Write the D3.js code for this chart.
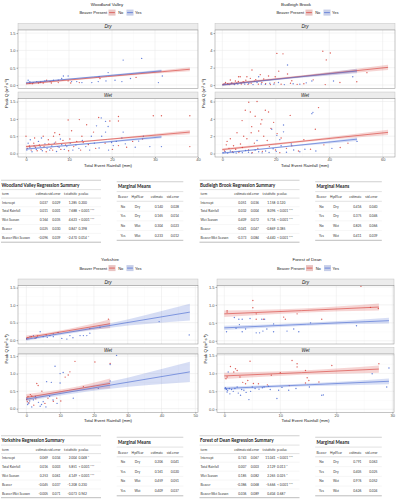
<!DOCTYPE html>
<html>
<head>
<meta charset="utf-8">
<script src="https://cdn.jsdelivr.net/npm/d3@7"></script>
<style>
body { margin: 0; background: #fff; }
svg { display: block; font-family: "Liberation Sans", Arial, sans-serif; }
.title { font-size: 4.4px; fill: #222; text-anchor: middle; }
.legend text { font-size: 4px; fill: #222; }
.strip { font-size: 4.6px; font-style: italic; fill: #1a1a1a; text-anchor: middle; }
.axis text { font-size: 4px; fill: #4d4d4d; font-family: "Liberation Sans", Arial, sans-serif; }
.axis line { stroke: #333; stroke-width: 0.4; }
.axlab { font-size: 4.3px; fill: #222; text-anchor: middle; }
.tbl text { font-family: Lato, "Open Sans", sans-serif; font-size: 3.25px; fill: #333; }
.tbl .ttl { font-size: 4.6px; font-weight: bold; fill: #222; }
</style>
</head>
<body>
<div id="chart"></div>
<script>
// ---- tick values
const unitYTicks = [0, 0.5, 1, 1.5];
const bbYTicks = [0, 2, 4, 6];
const wvXTicks = [0, 10, 20, 30, 40];
const bbXTicks = [0, 20, 40, 60];
const ykXTicks = [0, 10, 20, 30, 40, 50];
const fdXTicks = [0, 10, 20, 30];

// ---- points [rainfall mm, peak Q]
const wvDryNo = [[0.9,0.05],[1.5,0.04],[2.9,0.06],[3.4,0.09],[4.0,0.06],[4.8,0.14],[5.9,0.06],[7.5,0.07],[9.8,0.12],[10.4,0.06],[12.4,0.07],[17.2,0.19],[25.6,0.22]];
const wvDryYes = [[0.5,0.14],[0.9,0.1],[1.7,0.07],[2.5,0.1],[3.3,0.07],[4.4,0.12],[5.6,0.1],[6.4,0.14],[7.5,0.14],[8.3,0.19],[8.7,0.26],[9.8,0.26],[10.6,0.1],[11.8,0.1],[13,0.07],[15.3,0.07],[16.8,0.1],[17,0.24],[18.6,0.12],[19.1,0.36],[20.7,0.14],[22.3,0.1],[22.6,0.72],[24.3,0.19],[26.9,0.77],[30.8,0.07],[31.7,0.26]];
const wvWetNo = [[0,0.5],[4,0.5],[5.2,0.4],[6.4,0.5],[9.8,0.97],[12.4,0.98],[14.1,0.83],[10.6,0.66],[6.7,0.6],[19.5,0.94],[21.5,1.07],[21.5,0.94],[16.9,1.04],[29.6,1.09],[31.5,1.09],[38.1,1.09],[38.1,0.2],[23.4,0.18],[21.5,0.23],[15.7,0.62],[10.2,0.42],[13.3,0.32],
  [0.3,0.15],[0.8,0.22],[1.2,0.1],[1.8,0.3],[2.2,0.18],[2.6,0.08],[3.1,0.25],[3.5,0.12],[4.2,0.2],[4.7,0.05],[5.3,0.28],[5.8,0.15],[6.2,0.1],[6.9,0.33],[7.4,0.2],[8.1,0.12],[8.6,0.38],[9.2,0.25],[9.9,0.08],[11.1,0.2],[11.8,0.35],[12.7,0.1],[14.5,0.26],[16.2,0.15],[18.4,0.3],[20.1,0.12],[24.8,0.35],[27.1,0.42],[2.0,0.45],[7.8,0.55],[13,0.5]];
const wvWetYes = [[17.5,1.03],[18.5,0.93],[18.5,0.62],[19.1,0.78],[22.6,0.62],[16.4,0.8],[28.8,0.2],[31.5,0.2],[27.3,0.5],[17.6,0.5],[19.9,0.32],[20.3,0.23],[15.2,0.5],[22.3,0.45],
  [0.2,0.1],[0.5,0.3],[0.9,0.18],[1.4,0.05],[1.9,0.22],[2.4,0.12],[2.9,0.35],[3.3,0.2],[3.8,0.08],[4.4,0.28],[4.9,0.15],[5.5,0.1],[6.0,0.22],[6.6,0.3],[7.1,0.06],[7.7,0.18],[8.3,0.26],[8.9,0.12],[9.5,0.2],[10.3,0.3],[10.9,0.1],[11.6,0.25],[12.3,0.15],[13.1,0.38],[13.9,0.2],[14.8,0.1],[15.9,0.3],[17.0,0.16],[19.2,0.1],[21.0,0.35],[23.1,0.28],[25.4,0.18],[26.2,0.36],[1.0,0.4],[3.6,0.45],[8.0,0.42]];

const bbDryNo = [[20.4,3.65],[22.7,3.6],[37.6,3.9],[40.4,3.7],[38.9,2.9],[11.1,1.73],[21.1,1.6],[24.4,1.27],[17.3,1.04],[9.2,0.96],[10.5,0.77],[6.1,0.96],[6.7,0.96],[3,0.58],[4.9,0.46],[7.8,0.38],[19.8,0.96],[50.3,0.38],[54.1,1.43],[38.5,0.05],
  [0.5,0.1],[1.2,0.3],[2.0,0.15],[2.8,0.05],[3.6,0.25],[4.4,0.1],[5.3,0.2],[6.0,0.4],[7.1,0.12],[8.2,0.3],[9.6,0.08],[10.8,0.22],[12.0,0.45],[13.5,0.1],[14.8,0.3],[16.2,0.15],[18.0,0.05],[19.5,0.25],[22.0,0.1],[25.5,0.2],[28.0,0.08],[30.5,0.15],[34.0,0.6],[44.0,0.3],[12.5,0.62],[15.5,0.7],[8.8,0.55],[14.2,1.2],[26.0,0.5]];
const bbDryYes = [[24.4,2.31],[13.6,0.96],[33.5,0.46],[41.6,0.46],[48.8,0.96],
  [0.3,0.05],[1.0,0.15],[2.2,0.08],[3.4,0.2],[4.6,0.05],[5.8,0.12],[7.0,0.25],[8.4,0.1],[9.9,0.18],[11.5,0.05],[13.0,0.3],[14.6,0.12],[16.1,0.08],[17.8,0.2],[19.3,0.1],[21.0,0.3],[23.2,0.05],[26.5,0.15],[29.0,0.1],[31.4,0.25]];
const bbWetNo = [[9.9,5.92],[13,6.0],[8.6,5.0],[10.5,4.8],[7.4,3.8],[12.3,4.3],[16.1,5.0],[17.3,4.8],[25.4,4.4],[36,5.3],[34.8,2.8],[19.2,3.6],[13.6,2.6],[5.5,2.4],[3,1.7],[1.8,1.4],[44.1,0.7],[9.2,1.7],[15.5,2],
  [11.0,3.1],[14.4,3.4],[18.2,2.9],[20.5,2.3],[16.8,1.5],[6.8,1.1],[4.2,0.9],[8.0,2.0],[12.0,1.2],[22.0,1.8],[26.0,0.9],[30.5,1.6],[2.5,0.6],[0.8,0.3],[1.5,1.0],[3.8,0.2],[5.0,0.5],[6.2,0.15],[7.5,0.7],[9.8,0.4],[11.2,0.1],[13.3,0.6],[15.0,0.25],[17.6,0.8],[19.9,0.4],[21.5,0.1],[24.0,0.6],[28.5,0.3],[33.0,0.5],[38.0,1.0],[47,1.2],[14.8,3.9],[10.8,2.4]];
const bbWetYes = [[33.5,4.6],[33.9,4.75],[22.9,3.3],[22.9,2.5],[20.4,2.1],[13,1.5],[26.7,0.4],[30.9,0.5],[50.4,1.4],[18.5,2.8],[21.5,1.6],
  [0.3,0.1],[1.1,0.2],[2.0,0.05],[3.0,0.3],[4.1,0.12],[5.2,0.05],[6.3,0.25],[7.5,0.1],[8.7,0.35],[9.8,0.15],[11.0,0.05],[12.3,0.4],[13.6,0.2],[14.9,0.08],[16.2,0.3],[17.5,0.12],[19.0,0.55],[20.2,0.25],[22.0,0.9],[24.0,0.15],[25.8,1.1],[29.0,0.2],[35.0,0.3],[41.0,0.6]];

const ykDryNo = [[0.1,0.03],[0.5,0.06],[1.5,0.1],[2.6,0.05],[3.3,0.12],[5.9,0.15],[18.8,0.33],[24.3,0.6]];
const ykDryYes = [[0.1,0.05],[1.1,0.1],[2.1,0.13],[3,0.07],[4.1,0.24],[5,0.1],[6.2,0.08],[7,0.13],[8,0.1],[8,0.18],[9.4,0.22],[10.5,0.05],[12,0.03],[12.9,0.13],[13.8,0.07],[15.9,0.13],[16.9,0.13],[17.9,0.13],[18.8,0.2],[21.8,0.37],[39.3,0.53],[48.2,0.15]];
const ykWetNo = [[14.4,1.35],[20.3,1.33],[24.8,1.29],[12.9,1.05],[12.4,0.96],[16.9,0.63],[9,0.3],[8,0.21],[1.6,0.36],[3.1,0.72],[3.5,0.66],[0.8,0.16],[0.1,0.26],[0.3,0.2],[2.2,0.1],[4.6,0.5],[6.4,0.3],[10.2,0.22],[11.5,0.9],[1.2,0.4],[2.8,0.28],[5.5,0.15],[0.5,0.35]];
const ykWetYes = [[8.5,1.21],[10,1.0],[10.9,1.03],[10,0.73],[6,0.77],[7.4,0.75],[26.7,1.52],[24.8,0.79],[24.8,1.26],[21.3,0.58],[13.9,0.3],[2.1,0.25],[3.6,0.18],[5,0.2],[6.9,0.35],[0.6,0.16],[4.1,0.07],[0.2,0.3],[1.0,0.22],[2.7,0.35],[4.5,0.12],[5.8,0.05],[7.9,0.25],[9.1,0.15],[0.4,0.12],[1.6,0.05]];

const fdDryNo = [[0.5,0.84],[0.5,0.8],[5.1,1.12],[5.1,0.92],[5.7,0.75],[5.7,0.6],[7,0.6],[10.6,0.66],[10.9,0.6],[13,0.75],[17.4,0.6],[24.4,1.52],[26.1,0.93],[27.5,0.9]];
const fdDryYes = [[0.4,0.25],[1.8,0.65],[2.1,0.35],[2.6,0.6],[2.7,0.45],[3.2,0.6],[3.2,0.25],[3.8,0.33],[4.6,0.62],[5.7,0.22],[6.3,0.22],[6.7,0.6],[6.9,0.27],[7.2,0.6],[7.6,0.33],[8.8,0.47],[8.8,0.25],[11.2,0.27],[12.4,0.33],[13.3,0.25],[15.4,0.5],[23.6,0.42]];
const fdWetNo = [[0.5,0.9],[1.1,1.19],[1.7,1.04],[2,1.13],[2.3,1.08],[4.6,1.34],[6.1,0.71],[10,1.02],[12.1,1.36],[13,1.27],[13,1.18],[14.5,1.08],[14.5,0.73],[16.9,0.76],[19.2,1.22],[27.6,1.27],[3.8,0.71],[0.3,0.85],[2.8,0.9],[3.3,0.75],[4.2,0.8],[5.2,0.72],[7.7,0.68],[8.4,0.95],[14.8,0.88],[15.1,0.8],[11.6,0.66]];
const fdWetYes = [[0.7,1.04],[0.4,0.55],[0.5,0.48],[1,0.43],[2.3,0.62],[2.9,0.39],[3.5,0.53],[4.4,0.27],[5,0.62],[7.1,0.62],[7.9,0.64],[9.4,0.3],[9.7,0.53],[11.5,0.53],[17.4,0.39],[17.7,0.4],[26.4,0.99],[29.4,1.15],[0.2,0.6],[0.3,0.57],[0.6,0.52],[0.9,0.58],[1.3,0.55],[1.6,0.5],[1.9,0.58],[2.5,0.45],[3.1,0.55],[3.9,0.47],[4.7,0.5],[5.5,0.58],[6.2,0.56],[6.8,0.6],[8.2,0.55],[10.3,0.61],[12.8,0.58],[15.2,0.62],[29,0.62]];

// ---- fitted lines: [season, beaver, [[x, fit, lower, upper], ...]]
const wvFits = [
  ["Dry","No",[[0,0.037,0.0,0.077],[19,0.246,0.226,0.266],[38.1,0.456,0.396,0.516]]],
  ["Dry","Yes",[[0,0.062,0.032,0.092],[15.75,0.235,0.215,0.255],[31.5,0.41,0.37,0.45]]],
  ["Wet","No",[[0,0.2,0.17,0.23],[19,0.41,0.39,0.43],[38.1,0.62,0.56,0.68]]],
  ["Wet","Yes",[[0,0.13,0.105,0.155],[15.75,0.3,0.28,0.32],[31.5,0.48,0.44,0.52]]]
];
const bbFits = [
  ["Dry","No",[[0,0.05,-0.1,0.2],[31,1.04,0.92,1.16],[62,2.04,1.74,2.34]]],
  ["Dry","Yes",[[0,0.01,-0.11,0.13],[25.2,0.82,0.72,0.92],[50.4,1.62,1.37,1.87]]],
  ["Wet","No",[[0,0.46,0.32,0.6],[31,1.45,1.33,1.57],[62,2.44,2.14,2.74]]],
  ["Wet","Yes",[[0,0.05,-0.05,0.15],[25.2,0.85,0.77,0.93],[50.4,1.66,1.46,1.86]]]
];
const ykFits = [
  ["Dry","No",[[0,0.07,0.01,0.13],[12.4,0.27,0.22,0.32],[24.8,0.47,0.34,0.6]]],
  ["Dry","Yes",[[0,0.024,-0.016,0.064],[24.2,0.41,0.35,0.47],[48.4,0.8,0.56,1.04]]],
  ["Wet","No",[[0,0.32,0.22,0.42],[12.4,0.52,0.46,0.58],[24.8,0.72,0.58,0.86]]],
  ["Wet","Yes",[[0,0.27,0.22,0.32],[24.2,0.66,0.56,0.76],[48.4,1.05,0.76,1.34]]]
];
const fdFits = [
  ["Dry","No",[[0,0.75,0.66,0.84],[13.8,0.84,0.78,0.9],[27.6,0.94,0.84,1.04]]],
  ["Dry","Yes",[[0,0.36,0.3,0.42],[14.7,0.46,0.42,0.5],[29.4,0.56,0.48,0.64]]],
  ["Wet","No",[[0,0.93,0.84,1.02],[13.8,1.02,0.96,1.08],[27.6,1.12,1.02,1.22]]],
  ["Wet","Yes",[[0,0.58,0.53,0.63],[14.7,0.68,0.64,0.72],[29.4,0.78,0.7,0.86]]]
];

// ---- tables
const regHeader = ["term", "estimate", "std.error", "t.statistic", "p.value"];
const regTerms = ["Intercept", "Total Rainfall", "Wet Season", "Beaver", "Beaver:Wet Season"];
const wvReg = [["0.037","0.029","1.285","0.200"],["0.011","0.001","7.688","< 0.001 ***"],["0.164","0.035","4.623","< 0.001 ***"],["0.025","0.030","0.847","0.398"],["-0.096","0.039","-2.470","0.014 *"]];
const bbReg = [["0.051","0.036","1.158","0.120"],["0.032","0.004","8.096","< 0.001 ***"],["0.409","0.072","5.716","< 0.001 ***"],["-0.041","0.047","-0.869","0.385"],["-0.373","0.084","-4.440","< 0.001 ***"]];
const ykReg = [["0.069","0.034","2.004","0.048 *"],["0.016","0.003","5.851","< 0.001 ***"],["0.253","0.061","4.149","< 0.001 ***"],["-0.045","0.037","-1.208","0.230"],["-0.005","0.071","-0.073","0.942"]];
const fdReg = [["0.743","0.067","11.041","< 0.001 ***"],["0.007","0.003","2.129","0.013 *"],["0.185","0.082","2.265","0.025 *"],["-0.386","0.068","-5.666","< 0.001 ***"],["0.036","0.089","0.404","0.687"]];
const mmHeader = ["Beaver", "HydYear", "estimate", "std.error"];
const mmGroups = [["No","Dry"],["Yes","Dry"],["No","Wet"],["Yes","Wet"]];
const wvMeans = [["0.140","0.028"],["0.165","0.014"],["0.304","0.023"],["0.233","0.012"]];
const bbMeans = [["0.416","0.040"],["0.375","0.046"],["0.825","0.066"],["0.411","0.039"]];
const ykMeans = [["0.206","0.041"],["0.161","0.020"],["0.459","0.051"],["0.409","0.037"]];
const fdMeans = [["0.791","0.063"],["0.405","0.025"],["0.976","0.052"],["0.626","0.024"]];

const colors = {No: "#d7423b", Yes: "#4a6ad3"};

const sites = [
  {name: "Woodland Valley", ox: 0, oy: 0, px: [18, 198], titleX: 107, xDomain: [-1.86, 40], yDomain: [-0.1, 1.59],
   xTicks: wvXTicks, yTicks: unitYTicks, yFmt: d3.format(".1f"),
   pts: {DryNo: wvDryNo, DryYes: wvDryYes, WetNo: wvWetNo, WetYes: wvWetYes}, fits: wvFits, reg: wvReg, means: wvMeans, tx: 0},
  {name: "Budleigh Brook", ox: 197, oy: 0, px: [18, 198], titleX: 99, xDomain: [-2.73, 64.6], yDomain: [-0.4, 6.35],
   xTicks: bbXTicks, yTicks: bbYTicks, yFmt: d3.format("d"),
   pts: {DryNo: bbDryNo, DryYes: bbDryYes, WetNo: bbWetNo, WetYes: bbWetYes}, fits: bbFits, reg: bbReg, means: bbMeans, tx: 1.5},
  {name: "Yorkshire", ox: 0, oy: 255.5, px: [18, 198], titleX: 110, xDomain: [-2.46, 50.8], yDomain: [-0.11, 1.56],
   xTicks: ykXTicks, yTicks: unitYTicks, yFmt: d3.format(".1f"),
   pts: {DryNo: ykDryNo, DryYes: ykDryYes, WetNo: ykWetNo, WetYes: ykWetYes}, fits: ykFits, reg: ykReg, means: ykMeans, tx: 0},
  {name: "Forest of Dean", ox: 197, oy: 255.5, px: [20, 197], titleX: 110, xDomain: [-1.3, 30.3], yDomain: [-0.09, 1.54],
   xTicks: fdXTicks, yTicks: unitYTicks, yFmt: d3.format(".1f"),
   pts: {DryNo: fdDryNo, DryYes: fdDryYes, WetNo: fdWetNo, WetYes: fdWetYes}, fits: fdFits, reg: fdReg, means: fdMeans, tx: 1.5}
];

const svg = d3.select('#chart')
  .append('svg')
  .attr('width', 397)
  .attr('height', 500);

const facets = [
  {season: "Dry", top: 30, bottom: 88.5},
  {season: "Wet", top: 98.5, bottom: 157}
];

// minor breaks halfway between the majors
const minors = (ticks, dom) => {
  const step = ticks[1] - ticks[0];
  return ticks.map(t => t + step / 2).concat([ticks[0] - step / 2]).filter(v => v > dom[0] && v < dom[1]);
};

let clipCount = 0;

const drawSite = (s) => {
  const g = svg.append('g').attr('transform', `translate(${s.ox},${s.oy})`);
  const [x0, x1] = s.px;
  const cx = (x0 + x1) / 2;
  const x = d3.scaleLinear().domain(s.xDomain).range(s.px);

  g.append('text').attr('class', 'title').attr('x', s.titleX).attr('y', 5.6).text(s.name);

  // legend
  const lg = g.append('g').attr('class', 'legend').attr('transform', `translate(${cx},12.6)`);
  lg.append('text').attr('x', -1).attr('y', 1.4).attr('text-anchor', 'end').text('Beaver Present');
  [["No", 0.5, 10.2], ["Yes", 18.5, 27]].forEach(([lab, kx, tx]) => {
    lg.append('rect').attr('x', kx).attr('y', -3).attr('width', 7).attr('height', 6).attr('fill', '#f0f0f0');
    lg.append('rect').attr('x', kx).attr('y', -3).attr('width', 7).attr('height', 6)
      .attr('fill', colors[lab]).attr('fill-opacity', 0.25);
    lg.append('line').attr('x1', kx + 0.6).attr('x2', kx + 6.4).attr('y1', 0).attr('y2', 0)
      .attr('stroke', colors[lab]).attr('stroke-width', 0.7);
    lg.append('text').attr('x', tx).attr('y', 1.4).text(lab);
  });

  facets.forEach((f) => {
    const y = d3.scaleLinear().domain(s.yDomain).range([f.bottom, f.top]);
    const w = x1 - x0, h = f.bottom - f.top;

    // strip
    g.append('rect').attr('x', x0).attr('y', f.top - 6.5).attr('width', w).attr('height', 6.5)
      .attr('fill', '#ececec').attr('stroke', '#b8b8b8').attr('stroke-width', 0.4);
    g.append('text').attr('class', 'strip').attr('x', cx).attr('y', f.top - 1.6).text(f.season);

    const id = 'clip' + (clipCount++);
    g.append('clipPath').attr('id', id).append('rect')
      .attr('x', x0).attr('y', f.top).attr('width', w).attr('height', h);
    const p = g.append('g').attr('clip-path', `url(#${id})`);
    p.append('rect').attr('x', x0).attr('y', f.top).attr('width', w).attr('height', h).attr('fill', '#fff');

    // grid
    p.selectAll(null).data(minors(s.xTicks, s.xDomain)).join('line')
      .attr('x1', d => x(d)).attr('x2', d => x(d)).attr('y1', f.top).attr('y2', f.bottom)
      .attr('stroke', '#f3f3f3').attr('stroke-width', 0.35);
    p.selectAll(null).data(minors(s.yTicks, s.yDomain)).join('line')
      .attr('y1', d => y(d)).attr('y2', d => y(d)).attr('x1', x0).attr('x2', x1)
      .attr('stroke', '#f3f3f3').attr('stroke-width', 0.35);
    p.selectAll(null).data(s.xTicks).join('line')
      .attr('x1', d => x(d)).attr('x2', d => x(d)).attr('y1', f.top).attr('y2', f.bottom)
      .attr('stroke', '#e6e6e6').attr('stroke-width', 0.5);
    p.selectAll(null).data(s.yTicks).join('line')
      .attr('y1', d => y(d)).attr('y2', d => y(d)).attr('x1', x0).attr('x2', x1)
      .attr('stroke', '#e6e6e6').attr('stroke-width', 0.5);

    // points
    ["No", "Yes"].forEach(b => {
      p.selectAll(null).data(s.pts[f.season + b]).join('circle')
        .attr('cx', d => x(d[0])).attr('cy', d => y(d[1])).attr('r', 0.7)
        .attr('fill', colors[b]).attr('fill-opacity', 0.85);
    });

    // ribbons + fitted lines
    const area = d3.area().x(d => x(d[0])).y0(d => y(d[2])).y1(d => y(d[3])).curve(d3.curveNatural);
    const line = d3.line().x(d => x(d[0])).y(d => y(d[1]));
    s.fits.filter(d => d[0] === f.season).forEach(([, b, rows]) => {
      p.append('path').attr('d', area(rows)).attr('fill', colors[b]).attr('fill-opacity', 0.22);
    });
    s.fits.filter(d => d[0] === f.season).forEach(([, b, rows]) => {
      p.append('path').attr('d', line(rows)).attr('fill', 'none')
        .attr('stroke', colors[b]).attr('stroke-width', 0.7).attr('stroke-opacity', 0.9);
    });

    // border
    g.append('rect').attr('x', x0).attr('y', f.top).attr('width', w).attr('height', h)
      .attr('fill', 'none').attr('stroke', '#8a8a8a').attr('stroke-width', 0.5);

    // y axis
    g.append('g').attr('class', 'axis').attr('transform', `translate(${x0},0)`)
      .call(d3.axisLeft(y).tickValues(s.yTicks).tickFormat(s.yFmt).tickSize(1.5).tickPadding(1))
      .call(a => a.select('.domain').remove());
  });

  // x axis under the wet panel
  g.append('g').attr('class', 'axis').attr('transform', `translate(0,${facets[1].bottom})`)
    .call(d3.axisBottom(x).tickValues(s.xTicks).tickSize(1.2).tickPadding(0.4))
    .call(a => a.select('.domain').remove());

  g.append('text').attr('class', 'axlab').attr('x', cx).attr('y', 166.6).text('Total Event Rainfall (mm)');
  g.append('text').attr('class', 'axlab')
    .attr('transform', `translate(${x0 - 10.2},${(facets[0].top + facets[1].bottom) / 2}) rotate(-90)`)
    .text('Peak Q (m³ s⁻¹)');

  drawReg(g, s);
  drawMeans(g, s);
};

const hline = (t, xa, xb, yy, c, sw) => t.append('line')
  .attr('x1', xa).attr('x2', xb).attr('y1', yy).attr('y2', yy).attr('stroke', c).attr('stroke-width', sw);

const drawReg = (g, s) => {
  const t = g.append('g').attr('class', 'tbl').attr('transform', `translate(${s.tx},0)`);
  const colX = [2, 48, 60.5, 77, 78.5];
  const anchors = ['start', 'end', 'end', 'end', 'start'];
  const rowY = [202.3, 211.2, 220.1, 229, 237.9];
  hline(t, 1, 101, 180.3, '#cfcfcf', 1.1);
  t.append('text').attr('class', 'ttl').attr('x', 1.5).attr('y', 186.8).text(s.name + ' Regression Summary');
  hline(t, 1, 101, 189.6, '#d6d6d6', 0.7);
  regHeader.forEach((h, i) => t.append('text').attr('x', colX[i]).attr('y', 195.3)
    .attr('text-anchor', anchors[i]).text(h));
  hline(t, 1, 101, 198.1, '#d6d6d6', 0.7);
  regTerms.forEach((term, r) => {
    const cells = [term].concat(s.reg[r]);
    cells.forEach((c, i) => t.append('text').attr('x', colX[i]).attr('y', rowY[r] + 1.2)
      .attr('text-anchor', anchors[i]).text(c));
    if (r < 4) hline(t, 1, 101, rowY[r] + 4.45, '#e4e4e4', 0.35);
  });
  hline(t, 1, 101, 242.2, '#bdbdbd', 1);
};

const drawMeans = (g, s) => {
  const t = g.append('g').attr('class', 'tbl').attr('transform', `translate(${s.tx},0)`);
  const colX = [123, 137.5, 163, 179];
  const anchors = ['middle', 'middle', 'end', 'end'];
  const rowY = [206.3, 216, 225.7, 235.4];
  hline(t, 116.7, 183.3, 181.8, '#cfcfcf', 1.1);
  t.append('text').attr('class', 'ttl').attr('x', 118).attr('y', 188.4).text('Marginal Means');
  hline(t, 116.7, 183.3, 191.6, '#d6d6d6', 0.7);
  mmHeader.forEach((h, i) => t.append('text').attr('x', colX[i]).attr('y', 198)
    .attr('text-anchor', anchors[i]).text(h));
  hline(t, 116.7, 183.3, 201.3, '#d6d6d6', 0.7);
  mmGroups.forEach((grp, r) => {
    const cells = grp.concat(s.means[r]);
    cells.forEach((c, i) => t.append('text').attr('x', colX[i]).attr('y', rowY[r] + 1.2)
      .attr('text-anchor', anchors[i]).text(c));
    if (r < 3) hline(t, 116.7, 183.3, rowY[r] + 4.85, '#e4e4e4', 0.35);
  });
  hline(t, 116.7, 183.3, 240.3, '#bdbdbd', 1);
};

sites.forEach(drawSite);
</script>
</body>
</html>
